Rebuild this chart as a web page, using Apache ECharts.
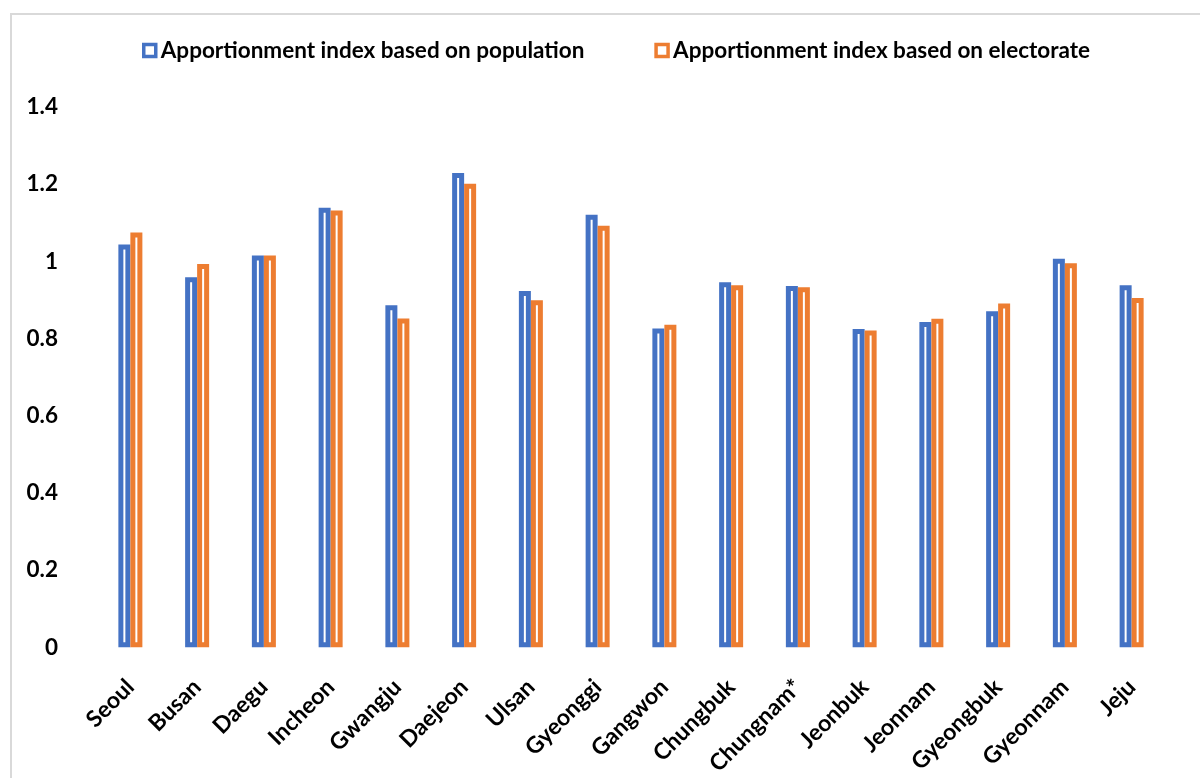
<!DOCTYPE html>
<html>
<head>
<meta charset="utf-8">
<script src="https://cdn.jsdelivr.net/npm/echarts@6/dist/echarts.min.js"></script>
<style>
html,body{margin:0;padding:0;background:#fff;}
#c{width:1200px;height:778px;}
</style>
</head>
<body>
<div id="c"></div>
<script>
const categories = ["Seoul","Busan","Daegu","Incheon","Gwangju","Daejeon","Ulsan","Gyeonggi","Gangwon","Chungbuk","Chungnam*","Jeonbuk","Jeonnam","Gyeongbuk","Gyeonnam","Jeju"];
const populationIndex = [1.044,0.959,1.015,1.139,0.886,1.229,0.923,1.121,0.826,0.946,0.936,0.825,0.843,0.871,1.007,0.938];
const electorateIndex = [1.075,0.993,1.015,1.132,0.852,1.201,0.899,1.092,0.836,0.938,0.933,0.821,0.851,0.891,0.995,0.905];
const seriesNames = ["Apportionment index based on population","Apportionment index based on electorate"];
const colors = ["#4472C4","#ED7D31"];

const font = "Lato, 'Open Sans', sans-serif";
const chart = echarts.init(document.getElementById('c'), null, {renderer:'canvas'});
chart.setOption({
  animation:false,
  backgroundColor:'#fff',
  graphic:[
    {type:'polyline', shape:{points:[[11,800],[11,14],[1200,14]]}, style:{stroke:'#d9d9d9', lineWidth:2, fill:null}}
  ],
  legend:{
    top:39, left:142, padding:0, itemWidth:12, itemHeight:12, itemGap:70, icon:'rect',
    textStyle:{fontFamily:font, fontWeight:'bold', fontSize:22.5, color:'#000'},
    data:[
      {name:seriesNames[0], itemStyle:{color:'#fff', borderColor:colors[0], borderWidth:3.5}},
      {name:seriesNames[1], itemStyle:{color:'#fff', borderColor:colors[1], borderWidth:3.5}}
    ]
  },
  grid:{left:97, right:35, top:107, bottom:127, containLabel:false},
  xAxis:{
    type:'category', data:categories,
    axisLine:{show:false}, axisTick:{show:false},
    axisLabel:{interval:0, rotate:45, margin:36, fontFamily:font, fontWeight:'bold', fontSize:23, color:'#000'}
  },
  yAxis:{
    type:'value', min:0, max:1.4, interval:0.2,
    splitLine:{show:false}, axisLine:{show:false}, axisTick:{show:false},
    axisLabel:{margin:39, fontFamily:font, fontWeight:'bold', fontSize:22.5, color:'#000', formatter:v=>String(+v.toFixed(1))}
  },
  series:[
    {name:seriesNames[0], type:'bar', data:populationIndex, barWidth:12, barGap:'0%',
     itemStyle:{color:'#fff', borderColor:colors[0], borderWidth:5}},
    {name:seriesNames[1], type:'bar', data:electorateIndex, barWidth:12, barGap:'0%',
     itemStyle:{color:'#fff', borderColor:colors[1], borderWidth:5}}
  ]
});
</script>
</body>
</html>
